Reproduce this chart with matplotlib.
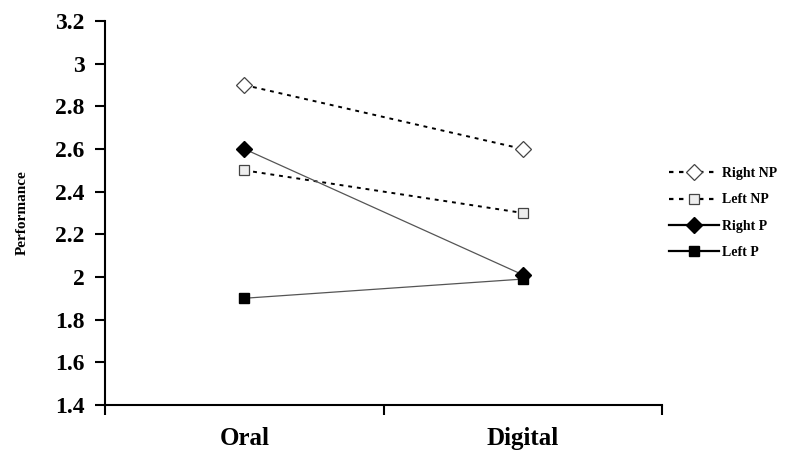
import numpy as np
import matplotlib
matplotlib.use('Agg')
import matplotlib.pyplot as plt

categories = ['Oral', 'Digital']
right_np = [2.9, 2.6]
left_np = [2.5, 2.3]
right_p = [2.6, 2.01]
left_p = [1.9, 1.99]
y_ticks = [1.4, 1.6, 1.8, 2.0, 2.2, 2.4, 2.6, 2.8, 3.0, 3.2]
y_tick_labels = ['1.4', '1.6', '1.8', '2', '2.2', '2.4', '2.6', '2.8', '3', '3.2']

plt.rcParams['font.family'] = ['Liberation Serif', 'DejaVu Serif']
plt.rcParams['font.weight'] = 'bold'

fig = plt.figure(figsize=(7.91, 4.58), dpi=100)
ax = fig.add_axes([0.133, 0.116, 0.704, 0.838])

x = np.arange(len(categories))
dash = (0, (2, 2.5))
ax.plot(x, right_np, linestyle=dash, color='black', lw=1.4, marker='D', ms=8.5,
        mfc='white', mec='#444444', mew=0.9, label='Right NP')
ax.plot(x, left_np, linestyle=dash, color='black', lw=1.4, marker='s', ms=7.5,
        mfc='#eeeeee', mec='#444444', mew=0.9, label='Left NP')
ax.plot(x, right_p, linestyle='-', color='#555555', lw=0.9, marker='D', ms=8.5,
        mfc='black', mec='black', label='Right P')
ax.plot(x, left_p, linestyle='-', color='#555555', lw=0.9, marker='s', ms=7.5,
        mfc='black', mec='black', label='Left P')

ax.set_xlim(-0.5, 1.5)
ax.set_ylim(1.4, 3.2)
ax.set_xticks(x)
ax.set_xticklabels(categories, fontsize=18, fontweight='bold')
ax.tick_params(axis='x', which='major', length=0, pad=16)
ax.set_xticks([-0.5, 0.5, 1.5], minor=True)
ax.tick_params(axis='x', which='minor', length=7, width=1.5, direction='out')

ax.set_yticks(y_ticks)
ax.set_yticklabels(y_tick_labels, fontsize=17, fontweight='bold')
ax.tick_params(axis='y', length=7, width=1.5, direction='out', pad=8)
ax.set_ylabel('Performance', fontsize=11, fontweight='bold', labelpad=19)

for s in ['top', 'right']:
    ax.spines[s].set_visible(False)
for s in ['left', 'bottom']:
    ax.spines[s].set_linewidth(1.5)

leg = ax.legend(loc='center left', bbox_to_anchor=(0.99, 0.50), frameon=False,
                prop={'size': 10, 'weight': 'bold'}, handlelength=3.6,
                labelspacing=0.95, handletextpad=0.25)
for h in leg.get_lines():
    h.set_color('black')
    h.set_linewidth(1.6)

fig.savefig('out.png', dpi=100)
